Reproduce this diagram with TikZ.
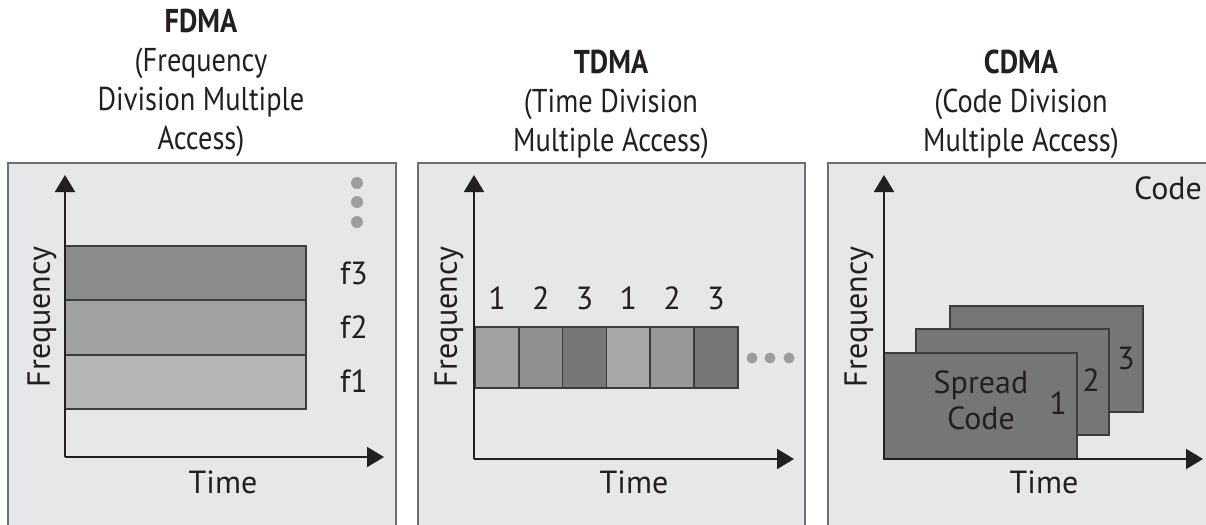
\documentclass[tikz,border=0pt]{standalone}
\usepackage{fontspec}
\setmainfont{PT Sans}
\newfontfamily\ttlfont[FakeStretch=0.86]{PT Sans}
\usetikzlibrary{arrows.meta,positioning}
\definecolor{panelbg}{HTML}{E6E7E8}
\definecolor{panelln}{HTML}{6E6F71}
\definecolor{ink}{HTML}{231F20}
\definecolor{edge}{HTML}{3C3C3E}
\definecolor{dotc}{HTML}{9C9D9F}
\definecolor{toneA}{HTML}{B4B5B7}
\definecolor{toneB}{HTML}{A0A1A3}
\definecolor{toneC}{HTML}{8A8B8D}
\definecolor{toneD}{HTML}{757678}

\begin{document}
\begin{tikzpicture}[x=0.5pt,y=-0.5pt,
  panel/.style={draw=panelln,line width=1.2pt,fill=panelbg},
  ax/.style={-{Triangle[length=8.5pt,width=10pt]},line width=1pt,draw=ink},
  band/.style={draw=edge,line width=0.8pt},
  lab/.style={font=\fontsize{16}{18}\selectfont,text=ink,inner sep=0pt},
  ttl/.style={font=\ttlfont\fontsize{16.5}{19.5}\selectfont,align=center,text=ink,inner sep=0pt},
  dot/.style={circle,fill=dotc,inner sep=0pt,minimum size=6pt}]
\useasboundingbox (0,0) rectangle (1206,525);
\fill[white] (0,0) rectangle (1206,525);

% titles
\node[ttl] (fdma) at (201,83) {\textbf{FDMA}\\(Frequency\\Division Multiple\\Access)};
\node[ttl] (tdma) at (611,104) {\textbf{TDMA}\\(Time Division\\Multiple Access)};
\node[ttl] (cdma) at (1021,104) {\textbf{CDMA}\\(Code Division\\Multiple Access)};

% panels
\draw[panel] (8,163) rectangle (396,545);
\draw[panel] (418,163) rectangle (805,545);
\draw[panel] (828,163) rectangle (1230,545);

% FDMA
\filldraw[band,fill=toneC] (65,246) rectangle (306,300);
\filldraw[band,fill=toneB] (65,300) rectangle (306,355);
\filldraw[band,fill=toneA] (65,355) rectangle (306,409);
\node[lab] (f3) at (354,273) {f3};
\node[lab] (f2) at (354,327) {f2};
\node[lab] (f1) at (354,381) {f1};
\node[dot] (d1) at (357,183) {};
\node[dot] (d2) at (357,202) {};
\node[dot] (d3) at (357,222) {};
\coordinate (o1) at (65,457);
\coordinate (y1) at (65,175);
\coordinate (x1) at (384,457);
\draw[ax] (o1) -- (y1);
\draw[ax] (o1) -- (x1);
\node[lab,rotate=90] (fq1) at (42,317) {Frequency};
\node[lab] (t1) at (223,482) {Time};

% TDMA
\foreach \i/\c/\n in {0/toneB/1,1/toneC!80!toneB/2,2/toneD/3,3/toneB!70!toneA/1,4/toneB!60!toneC/2,5/toneD/3}{
  \filldraw[band,fill=\c] (475+43.8*\i,327) rectangle (475+43.8*\i+43.8,388);
  \node[lab] (s\i) at (497+43.8*\i,298) {\n};
}
\node[dot,minimum size=5.5pt] (e1) at (752,358) {};
\node[dot,minimum size=5.5pt] (e2) at (770,358) {};
\node[dot,minimum size=5.5pt] (e3) at (789,358) {};
\coordinate (o2) at (474,459);
\coordinate (y2) at (474,175);
\coordinate (x2) at (794,459);
\draw[ax] (o2) -- (y2);
\draw[ax] (o2) -- (x2);
\node[lab,rotate=90] (fq2) at (449,317) {Frequency};
\node[lab] (t2) at (634,482) {Time};

% CDMA
\filldraw[band,fill=toneD] (950,306) rectangle (1143,412);
\filldraw[band,fill=toneD] (916,329) rectangle (1109,435);
\filldraw[band,fill=toneD] (884,353) rectangle (1077,459);
\node[lab,align=center,font=\fontsize{16}{18}\selectfont] (sc) at (981,400) {Spread\\Code};
\node[lab] (c1) at (1058,403) {1};
\node[lab] (c2) at (1091,380) {2};
\node[lab] (c3) at (1126,358) {3};
\node[lab] (cd) at (1168,188) {Code};
\coordinate (o3) at (884,459);
\coordinate (y3) at (884,175);
\coordinate (x3) at (1203,459);
\draw[ax] (o3) -- (y3);
\draw[ax] (o3) -- (x3);
\node[lab,rotate=90] (fq3) at (859,317) {Frequency};
\node[lab] (t3) at (1044,482) {Time};
\end{tikzpicture}
\end{document}
